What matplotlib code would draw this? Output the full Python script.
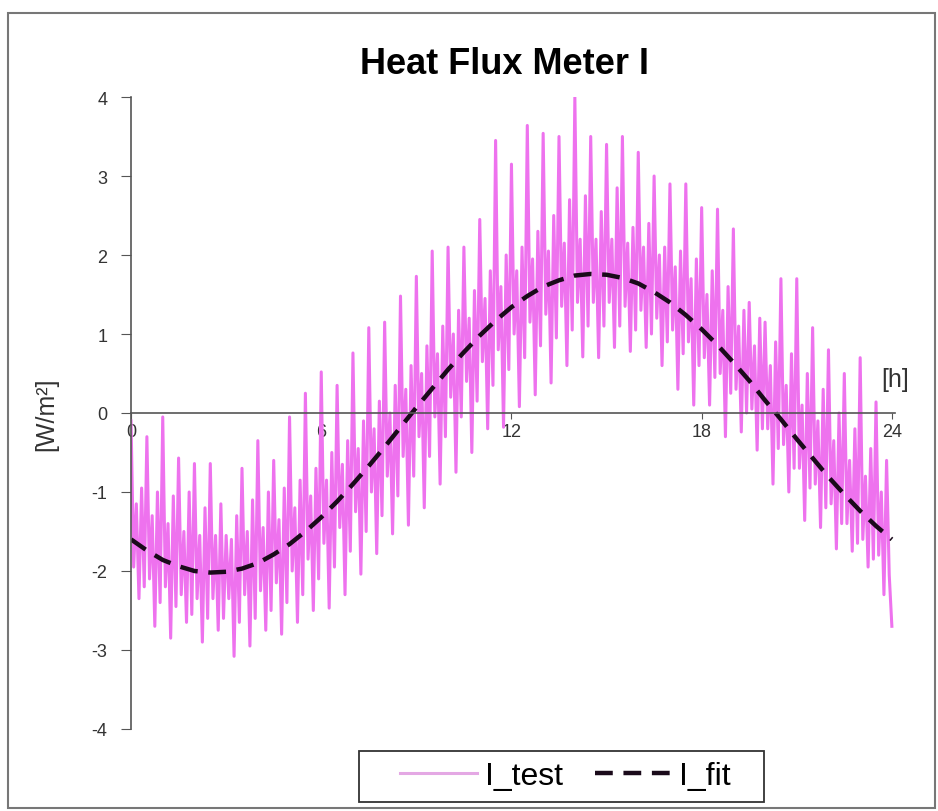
import numpy as np
import matplotlib
matplotlib.use("Agg")
import matplotlib.pyplot as plt
from matplotlib.patches import Rectangle

plt.rcParams['font.family'] = ['Liberation Sans', 'DejaVu Sans']
plt.rcParams['axes.unicode_minus'] = False

# I_test, read per half-hour cycle: tall spike, band low, band high, trough, secondary spike, secondary dip
peak = [-0.10, -0.30, -0.05, -0.57, -0.64, -0.64, -1.55, -0.70, -0.35, -0.60,
        -0.05, 0.25, 0.52, 0.35, 0.76, 1.08, 1.15, 1.48, 1.73, 2.05,
        2.10, 2.10, 2.45, 3.45, 3.15, 3.64, 3.54, 3.50, 4.00, 3.50,
        3.40, 3.50, 3.30, 3.00, 2.90, 2.90, 2.60, 2.58, 2.33, 1.40,
        1.15, 1.70, 1.70, 1.08, 0.80, 0.50, 0.70, 0.14]
band_lo = [-1.95, -2.10, -2.20, -2.30, -2.35, -2.35, -2.35, -2.30, -2.25, -2.15,
           -2.00, -1.85, -1.65, -1.45, -1.25, -1.00, -0.80, -0.55, -0.30, -0.05,
           0.20, 0.40, 0.65, 0.80, 1.00, 1.15, 1.25, 1.35, 1.40, 1.40,
           1.40, 1.35, 1.30, 1.20, 1.05, 0.90, 0.70, 0.50, 0.30, 0.05,
           -0.20, -0.40, -0.70, -0.90, -1.15, -1.40, -1.60, -1.80]
band_hi = [-1.15, -1.30, -1.40, -1.50, -1.55, -1.55, -1.60, -1.50, -1.45, -1.35,
           -1.20, -1.05, -0.85, -0.65, -0.45, -0.20, 0.00, 0.30, 0.50, 0.75,
           1.00, 1.20, 1.45, 1.60, 1.80, 1.95, 2.05, 2.15, 2.20, 2.20,
           2.20, 2.15, 2.10, 2.00, 1.85, 1.70, 1.50, 1.30, 1.10, 0.85,
           0.60, 0.35, 0.10, -0.10, -0.35, -0.60, -0.80, -1.00]
trough = [-2.35, -2.70, -2.85, -2.65, -2.90, -2.75, -3.08, -2.95, -2.75, -2.80,
          -2.65, -2.50, -2.47, -2.30, -2.04, -1.78, -1.53, -1.42, -1.20, -0.90,
          -0.75, -0.50, -0.20, -0.18, 0.08, 0.23, 0.38, 0.60, 0.71, 0.70,
          0.83, 0.78, 0.83, 0.60, 0.30, 0.10, 0.10, -0.30, -0.24, -0.47,
          -0.90, -1.00, -1.36, -1.45, -1.72, -1.75, -1.95, -2.30]
sec_peak = [-0.95, -1.00, -1.05, -1.00, -1.20, -1.15, -1.30, -1.10, -1.00, -0.95,
            -0.85, -0.70, -0.50, -0.35, -0.10, 0.15, 0.35, 0.60, 0.85, 1.10,
            1.30, 1.55, 1.80, 2.00, 2.10, 2.30, 2.50, 2.70, 2.75, 2.55,
            2.85, 2.35, 2.40, 2.10, 2.05, 1.95, 1.80, 1.60, 1.30, 1.20,
            0.90, 0.75, 0.50, 0.30, 0.00, -0.20, -0.45, -0.60]
sec_dip = [-2.20, -2.40, -2.45, -2.55, -2.60, -2.60, -2.65, -2.60, -2.50, -2.40,
           -2.30, -2.10, -1.95, -1.75, -1.50, -1.30, -1.05, -0.80, -0.55, -0.30,
           -0.05, 0.15, 0.35, 0.55, 0.70, 0.85, 0.95, 1.05, 1.10, 1.10,
           1.10, 1.05, 1.00, 0.90, 0.75, 0.60, 0.45, 0.25, 0.00, -0.20,
           -0.45, -0.70, -0.95, -1.20, -1.40, -1.65, -1.85, -2.05]
last_test = -2.70

# I_fit, read every half hour from 0 to 24 h
fit = [-1.60, -1.74, -1.86, -1.94, -2.00, -2.02, -2.01, -1.97, -1.90, -1.79,
       -1.66, -1.50, -1.32, -1.12, -0.90, -0.67, -0.43, -0.18, 0.07, 0.31,
       0.55, 0.77, 0.98, 1.17, 1.34, 1.48, 1.60, 1.68, 1.74, 1.76,
       1.75, 1.71, 1.64, 1.53, 1.40, 1.24, 1.06, 0.86, 0.64, 0.41,
       0.16, -0.08, -0.33, -0.57, -0.81, -1.03, -1.24, -1.43, -1.60]

xticks = [0, 6, 12, 18, 24]
yticks = [-4, -3, -2, -1, 0, 1, 2, 3, 4]

test_vals = np.column_stack([peak, band_lo, band_hi, trough, sec_peak, sec_dip]).ravel()
test_vals = np.append(test_vals, last_test)
t_test = np.linspace(0, 24, len(test_vals))
t_fit = np.linspace(0, 24, len(fit))

fig = plt.figure(figsize=(9.38, 8.12), dpi=100)
fig.patches.append(Rectangle((0.009, 0.004), 0.988, 0.979, transform=fig.transFigure,
                             fill=False, edgecolor='#777777', linewidth=1.5))

ax = fig.add_axes([0.1397, 0.101, 0.8145, 0.7783])
ax.plot(t_test, test_vals, color='#EE72EE', linewidth=2.2, label='I_test')
ax.plot(t_fit, fit, color='#1a0a1a', linewidth=3.2, linestyle=(0, (4, 2.4)), label='I_fit')

ax.set_xlim(0, 24.1)
ax.set_ylim(-4, 4)
ax.spines['top'].set_visible(False)
ax.spines['right'].set_visible(False)
ax.spines['bottom'].set_position(('data', 0))
ax.spines['bottom'].set_color('#555555')
ax.spines['left'].set_color('#555555')
ax.spines['bottom'].set_linewidth(1.2)
ax.spines['left'].set_linewidth(1.2)
ax.set_xticks(xticks)
ax.set_yticks(yticks)
ax.tick_params(axis='x', direction='out', length=4, colors='#555555', labelcolor='#333333',
               labelsize=13, pad=3)
ax.tick_params(axis='y', direction='out', length=7, colors='#555555', labelcolor='#333333',
               labelsize=13, pad=10)

ax.set_ylabel('[W/m²]', fontsize=18, color='#333333', labelpad=24)
ax.text(1.0, 0.535, '[h]', transform=ax.transAxes, fontsize=18, color='#333333',
        ha='center', va='bottom')

fig.text(0.538, 0.92, 'Heat Flux Meter I', ha='center', va='center',
         fontsize=26, fontweight='bold')

# legend box drawn separately so the padding matches the original
fig.patches.append(Rectangle((0.383, 0.011), 0.431, 0.063, transform=fig.transFigure,
                             fill=False, edgecolor='#333333', linewidth=1.3))
leg = fig.legend(loc='center', bbox_to_anchor=(0.603, 0.0425), ncol=2, fontsize=23,
                 frameon=False, handlelength=2.4, columnspacing=1.0, handletextpad=0.25)
leg.get_lines()[0].set_color('#E4A8E4')

fig.savefig('out.png', dpi=100)
